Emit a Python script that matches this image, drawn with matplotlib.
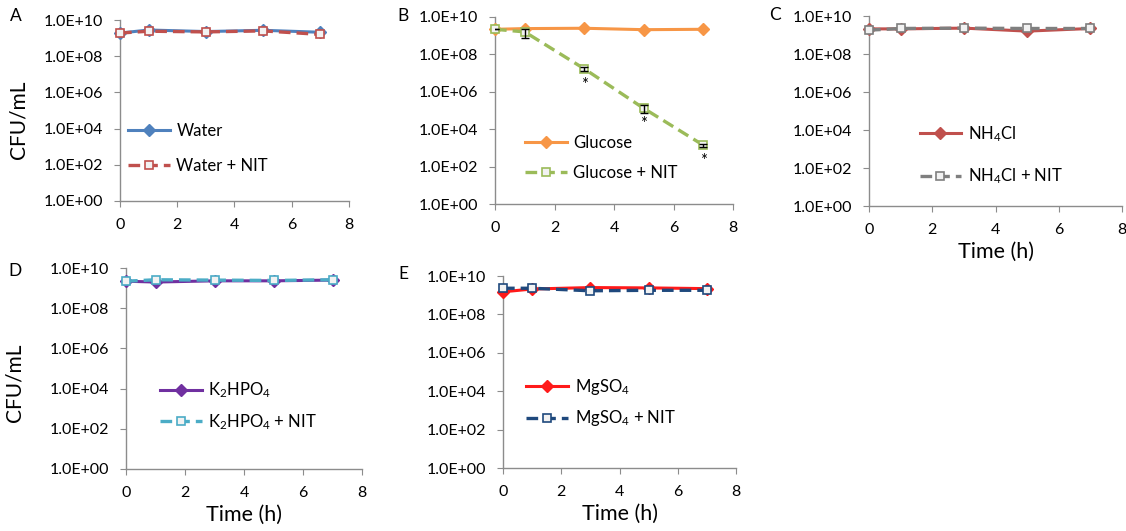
import math
import matplotlib
matplotlib.use("Agg")
import matplotlib.pyplot as plt
from matplotlib.ticker import FixedLocator, FuncFormatter, NullLocator

plt.rcParams['font.family'] = ['Lato', 'DejaVu Sans']
plt.rcParams['mathtext.fontset'] = 'custom'
plt.rcParams['mathtext.rm'] = 'Lato'
plt.rcParams['mathtext.default'] = 'regular'

# Time points (h)
time_h = [0, 1, 3, 5, 7]

# Panel A
water = [1.9e9, 2.8e9, 2.3e9, 2.7e9, 2.1e9]
water_nit = [1.9e9, 2.4e9, 2.2e9, 2.5e9, 1.6e9]
# Panel B
glucose = [2.2e9, 2.4e9, 2.5e9, 2.1e9, 2.2e9]
glucose_nit = [2.2e9, 1.6e9, 1.7e7, 1.3e5, 1.4e3]
glucose_nit_err = [0, 0.8e9, 0.4e7, 0.6e5, 0.3e3]
# Panel C
nh4cl = [2.1e9, 2.1e9, 2.3e9, 1.6e9, 2.2e9]
nh4cl_nit = [1.8e9, 2.2e9, 2.3e9, 2.2e9, 2.2e9]
# Panel D
k2hpo4 = [2.2e9, 2.0e9, 2.3e9, 2.3e9, 2.5e9]
k2hpo4_nit = [2.2e9, 2.6e9, 2.5e9, 2.4e9, 2.6e9]
# Panel E
mgso4 = [1.5e9, 2.1e9, 2.5e9, 2.4e9, 2.2e9]
mgso4_nit = [2.3e9, 2.3e9, 1.7e9, 1.8e9, 1.8e9]

W, H = 1126, 531
fig = plt.figure(figsize=(W / 100, H / 100), dpi=100)

def make_axes(l, r, t, b):
    return fig.add_axes([l / W, 1 - b / H, (r - l) / W, (b - t) / H])

def style_axes(ax):
    ax.set_yscale('log')
    ax.set_xlim(0, 8)
    ax.set_ylim(1, 1e10)
    ax.xaxis.set_major_locator(FixedLocator([0, 2, 4, 6, 8]))
    ax.yaxis.set_major_locator(FixedLocator([10.0 ** k for k in range(0, 11, 2)]))
    ax.yaxis.set_minor_locator(NullLocator())
    ax.yaxis.set_major_formatter(FuncFormatter(lambda v, p: '1.0E+%02d' % int(round(math.log10(v)))))
    for s in ['top', 'right']:
        ax.spines[s].set_visible(False)
    for s in ['left', 'bottom']:
        ax.spines[s].set_color('#8c8c8c')
        ax.spines[s].set_linewidth(1.0)
    ax.tick_params(axis='both', direction='out', length=4, color='#8c8c8c',
                   labelsize=11.5, pad=8)

def plot_pair(ax, y1, y2, c1, c2, lab1, lab2, err=None):
    ax.plot(time_h, y1, color=c1, lw=2.2, marker='D', ms=6, mfc=c1, mec=c1,
            label=lab1, clip_on=False, zorder=3)
    ax.plot(time_h, y2, color=c2, lw=2.4, ls=(0, (3.5, 1.8)), marker='s', ms=5.5,
            mfc='#f2f2f2', mec=c2, mew=1.2, label=lab2, clip_on=False, zorder=4)
    if err is not None:
        ax.errorbar(time_h, y2, yerr=err, fmt='none', ecolor='black', elinewidth=1,
                    capsize=3, zorder=5)

def add_legend(ax, x, y, spacing):
    ax.legend(loc='upper left', bbox_to_anchor=(x, y), frameon=False, fontsize=12,
              handlelength=2.5, handletextpad=0.4, labelspacing=spacing, borderpad=0,
              borderaxespad=0)

axA = make_axes(120, 349, 20, 201)
axB = make_axes(495, 733, 17, 204)
axC = make_axes(869, 1122, 16, 206)
axD = make_axes(126, 362, 268, 469)
axE = make_axes(503, 736, 276, 468)

for ax in [axA, axB, axC, axD, axE]:
    style_axes(ax)

plot_pair(axA, water, water_nit, '#4f81bd', '#c0504d', 'Water', 'Water + NIT')
plot_pair(axB, glucose, glucose_nit, '#f79646', '#9bbb59', 'Glucose', 'Glucose + NIT',
          err=glucose_nit_err)
plot_pair(axC, nh4cl, nh4cl_nit, '#c0504d', '#7f7f7f', r'NH$_4$Cl', r'NH$_4$Cl + NIT')
plot_pair(axD, k2hpo4, k2hpo4_nit, '#7030a0', '#4bacc6', r'K$_2$HPO$_4$', r'K$_2$HPO$_4$ + NIT')
plot_pair(axE, mgso4, mgso4_nit, '#ff1a1a', '#1f497d', r'MgSO$_4$', r'MgSO$_4$ + NIT')

# significance marks
for i in [2, 3, 4]:
    axB.annotate('*', (time_h[i], glucose_nit[i]), xytext=(0, -16), textcoords='offset pixels',
                 ha='center', va='center', fontsize=12)

add_legend(axA, 0.035, 0.43, 1.1)
add_legend(axB, 0.126, 0.37, 0.85)
add_legend(axC, 0.2, 0.43, 1.35)
add_legend(axD, 0.144, 0.44, 0.7)
add_legend(axE, 0.10, 0.475, 0.7)

axA.set_ylabel('CFU/mL', fontsize=15)
axA.yaxis.set_label_coords(-0.40, 0.45)
axD.set_ylabel('CFU/mL', fontsize=15)
axD.yaxis.set_label_coords(-0.43, 0.43)
for ax in [axC, axD, axE]:
    ax.set_xlabel('Time (h)', fontsize=15.5, labelpad=4)

for lab, (x, y) in zip('ABCDE', [(16, 16), (403, 16), (775, 15), (15, 271), (403, 274)]):
    fig.text(x / W, 1 - y / H, lab, fontsize=12.5, ha='center', va='center')

fig.savefig('out.png', dpi=100)
